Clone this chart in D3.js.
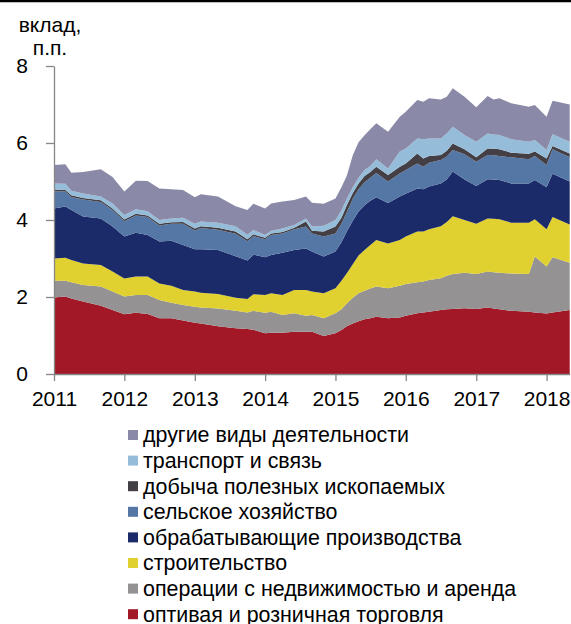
<!DOCTYPE html>
<html>
<head>
<meta charset="utf-8">
<script src="https://cdn.jsdelivr.net/npm/d3@7"></script>
<style>
  body { margin: 0; background: #fff; }
  svg { display: block; font-family: Arial, "Liberation Sans", sans-serif; }
  .axis path, .axis line { stroke: #868686; stroke-width: 1.3; }
  .axis text { fill: #000; font-size: 21px; font-family: Arial, "Liberation Sans", sans-serif; }
</style>
</head>
<body>
<div id="chart"></div>
<script>
// --- data (contributions, п.п.) ---
const dates = ["2011-01","2011-03","2011-04","2011-06","2011-09","2011-11",
  "2012-01","2012-03","2012-05","2012-07","2012-09","2012-11",
  "2013-01","2013-02","2013-05","2013-08","2013-10","2013-11",
  "2014-01","2014-02","2014-04","2014-06","2014-08","2014-09","2014-11",
  "2015-01","2015-02","2015-03","2015-04","2015-05","2015-06","2015-07","2015-08","2015-10","2015-12",
  "2016-01","2016-03","2016-04","2016-05","2016-07","2016-08","2016-09","2016-11",
  "2017-01","2017-03","2017-04","2017-05","2017-07","2017-10","2017-11",
  "2018-01","2018-02","2018-05"];

const trade = [1.99,2.01,1.96,1.88,1.77,1.66, 1.55,1.59,1.56,1.45,1.45,1.39, 1.33,1.31,1.24,1.19,1.17,1.15,
  1.06,1.07,1.07,1.10,1.10,1.10,0.99, 1.06,1.14,1.24,1.31,1.37,1.42,1.45,1.49,1.45,1.47,
  1.51,1.58,1.60,1.62,1.66,1.68,1.69,1.71, 1.69,1.73,1.70,1.68,1.64,1.62,1.60, 1.57,1.60,1.66];
const realEstate = [.43,.41,.42,.43,.50,.48, .46,.46,.49,.47,.40,.40, .42,.42,.46,.45,.43,.49,
  .53,.55,.46,.48,.41,.43,.46, .52,.54,.59,.67,.73,.74,.77,.78,.78,.82,
  .83,.80,.80,.82,.83,.87,.91,.92, .91,.93,.94,.95,.97,.98,1.45, 1.22,1.43,1.23];
const construction = [.58,.60,.58,.56,.56,.52, .47,.48,.48,.43,.44,.39, .39,.38,.38,.34,.35,.43,
  .46,.48,.52,.60,.67,.61,.65, .65,.74,.79,.87,.98,1.06,1.13,1.21,1.16,1.19,
  1.23,1.32,1.30,1.32,1.35,1.40,1.50,1.37, 1.30,1.38,1.39,1.39,1.32,1.33,.97, .97,1.05,.99];
const manufacturing = [1.30,1.33,1.30,1.22,1.21,1.17, 1.09,1.14,1.08,1.09,1.17,1.17, 1.10,1.13,1.14,1.08,1.00,1.03,
  .98,.99,1.10,1.04,1.08,1.04,.95, .95,1.00,1.08,1.13,1.14,1.16,1.15,1.11,1.05,1.13,
  1.11,1.12,1.10,1.11,1.11,1.10,1.16,1.05, .98,1.02,1.02,1.02,1.02,1.02,1.02, 1.09,1.12,1.12];
const agriculture = [.45,.39,.34,.44,.43,.43, .40,.45,.47,.42,.44,.55, .49,.55,.53,.58,.50,.48,
  .47,.52,.50,.54,.57,.47,.52, .47,.48,.50,.57,.58,.60,.60,.63,.56,.60,
  .62,.65,.58,.62,.61,.60,.56,.66, .63,.63,.63,.62,.68,.63,.62, .58,.64,.63];
const mining = [.04,.04,.04,.04,.04,.04, .04,.04,.04,.04,.04,.05, .05,.05,.05,.06,.05,.05,
  .04,.04,.04,.04,.13,.07,.13, .18,.16,.18,.15,.15,.16,.15,.16,.17,.17,
  .17,.26,.22,.17,.13,.15,.17,.13, .12,.17,.17,.18,.12,.14,.12, .17,.08,.10];
const transport = [.16,.16,.12,.12,.10,.13, .12,.12,.11,.10,.10,.11, .12,.12,.13,.14,.12,.11,
  .07,.07,.09,.07,.08,.11,.15, .17,.19,.17,.15,.15,.16,.15,.20,.17,.40,
  .39,.39,.50,.46,.43,.45,.43,.37, .40,.39,.37,.37,.35,.31,.30, .22,.31,.30];
const other = [.48,.51,.47,.56,.71,.69, .61,.74,.78,.82,.76,.72, .69,.71,.68,.52,.64,.68,
  .69,.71,.70,.65,.57,.62,.57, .56,.60,.60,.83,.92,.90,.96,.93,.95,.90,
  .95,1.00,.97,1.04,1.01,.95,1.00,.99, .90,.97,.91,.95,.93,.91,.91, .86,.87,.97];

const seriesDefs = [
  {key: "trade", label: "оптивая и розничная торговля", values: trade, color: "#a31826"},
  {key: "realEstate", label: "операции с недвижимостью и аренда", values: realEstate, color: "#949293"},
  {key: "construction", label: "строительство", values: construction, color: "#e0d030"},
  {key: "manufacturing", label: "обрабатывающие производства", values: manufacturing, color: "#1b2a68"},
  {key: "agriculture", label: "сельское хозяйство", values: agriculture, color: "#5577a5"},
  {key: "mining", label: "добыча полезных ископаемых", values: mining, color: "#433f45"},
  {key: "transport", label: "транспорт и связь", values: transport, color: "#95bdd9"},
  {key: "other", label: "другие виды деятельности", values: other, color: "#8a8aa8"}
];

const W = 571, H = 624;
const parse = d3.timeParse("%Y-%m");

const rows = dates.map((d, i) => {
  const r = {date: parse(d)};
  seriesDefs.forEach(s => r[s.key] = s.values[i]);
  return r;
});

const svg = d3.select("#chart").append("svg")
  .attr("width", W).attr("height", H);

// top rule
svg.append("line").attr("x1", 0).attr("x2", W).attr("y1", 1).attr("y2", 1)
  .attr("stroke", "#000").attr("stroke-width", 2.5);

const x = d3.scaleTime()
  .domain([new Date(2011, 0, 1), new Date(2018, 4, 1)])
  .range([54, 569.7]);
const y = d3.scaleLinear().domain([0, 8]).range([374, 66]);

const stack = d3.stack().keys(seriesDefs.map(s => s.key));
const layers = stack(rows);

const area = d3.area()
  .x(d => x(d.data.date))
  .y0(d => y(d[0]))
  .y1(d => y(d[1]));

svg.append("g").selectAll("path").data(layers).join("path")
  .attr("d", area)
  .attr("fill", (d, i) => seriesDefs[i].color);

// axes
svg.append("g").attr("class", "axis")
  .attr("transform", "translate(0,374)")
  .call(d3.axisBottom(x).ticks(d3.timeYear.every(1)).tickFormat(d3.timeFormat("%Y"))
    .tickSize(7).tickPadding(10).tickSizeOuter(0));

svg.append("g").attr("class", "axis")
  .attr("transform", "translate(54,0)")
  .call(d3.axisLeft(y).tickValues([0, 2, 4, 6, 8]).tickSize(8).tickPadding(18).tickSizeOuter(0));

// y title
svg.append("text").attr("x", 50).attr("y", 32).attr("text-anchor", "middle")
  .attr("font-size", 21).text("вклад,");
svg.append("text").attr("x", 50).attr("y", 55).attr("text-anchor", "middle")
  .attr("font-size", 21).text("п.п.");

// legend
const legend = svg.append("g");
const items = seriesDefs.slice().reverse();
items.forEach((s, i) => {
  const cy = 435 + i * 25.6;
  legend.append("rect").attr("x", 128).attr("y", cy - 5).attr("width", 10).attr("height", 10)
    .attr("fill", s.color);
  legend.append("text").attr("x", 143).attr("y", cy).attr("dy", "0.35em")
    .attr("font-size", 21.4).text(s.label);
});
</script>
</body>
</html>
